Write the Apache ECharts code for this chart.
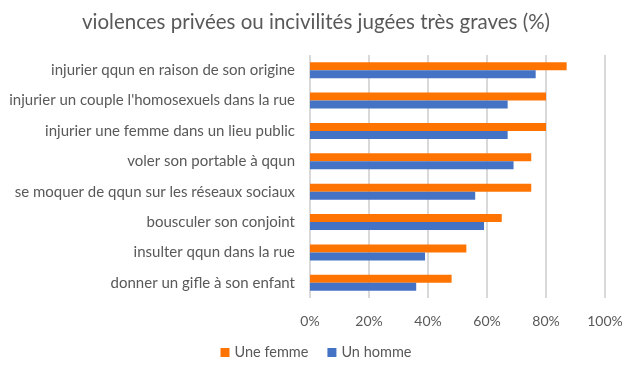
<!DOCTYPE html>
<html>
<head>
<meta charset="utf-8">
<script src="https://cdn.jsdelivr.net/npm/echarts@6/dist/echarts.min.js"></script>
<style>
  html, body { margin: 0; padding: 0; background: #fff; }
  #chart { width: 632px; height: 377px; }
</style>
</head>
<body>
<div id="chart"></div>
<script>
var categories = [
  "injurier qqun en raison de son origine",
  "injurier un couple l'homosexuels dans la rue",
  "injurier une femme dans un lieu public",
  "voler son portable à qqun",
  "se moquer de qqun sur les réseaux sociaux",
  "bousculer son conjoint",
  "insulter qqun dans la rue",
  "donner un gifle à son enfant"
];
var femme = [87, 80, 80, 75, 75, 65, 53, 48];
var homme = [76.5, 67, 67, 69, 56, 59, 39, 36];

var chart = echarts.init(document.getElementById("chart"));
var font = "Lato, 'Noto Sans', sans-serif";

var option = {
  animation: false,
  title: {
    text: "violences privées ou incivilités jugées très graves (%)",
    left: "center",
    top: 7,
    textStyle: {
      color: "#595959",
      fontSize: 20.5,
      fontWeight: "normal",
      fontFamily: font
    }
  },
  legend: {
    data: ["Une femme", "Un homme"],
    bottom: 12,
    left: "center",
    itemWidth: 9,
    itemHeight: 9,
    itemGap: 19,
    icon: "rect",
    textStyle: { color: "#595959", fontSize: 14.5, fontFamily: font }
  },
  grid: {
    left: 310,
    right: 27,
    top: 55,
    bottom: 79
  },
  xAxis: {
    type: "value",
    min: 0,
    max: 100,
    interval: 20,
    axisLabel: {
      formatter: "{value}%",
      color: "#595959",
      fontSize: 14,
      fontFamily: font,
      margin: 16
    },
    axisLine: { show: false },
    axisTick: { show: false },
    splitLine: { lineStyle: { color: "#d9d9d9", width: 2 } }
  },
  yAxis: {
    type: "category",
    data: categories,
    inverse: true,
    axisLabel: {
      color: "#595959",
      fontSize: 15,
      fontFamily: font,
      margin: 15
    },
    axisLine: { show: false },
    axisTick: { show: false }
  },
  series: [
    {
      name: "Une femme",
      type: "bar",
      data: femme,
      barWidth: 8,
      barGap: 0,
      itemStyle: { color: "#ff7300" }
    },
    {
      name: "Un homme",
      type: "bar",
      data: homme,
      barWidth: 8,
      barGap: 0,
      itemStyle: { color: "#4472c4" }
    }
  ]
};
chart.setOption(option);
</script>
</body>
</html>
